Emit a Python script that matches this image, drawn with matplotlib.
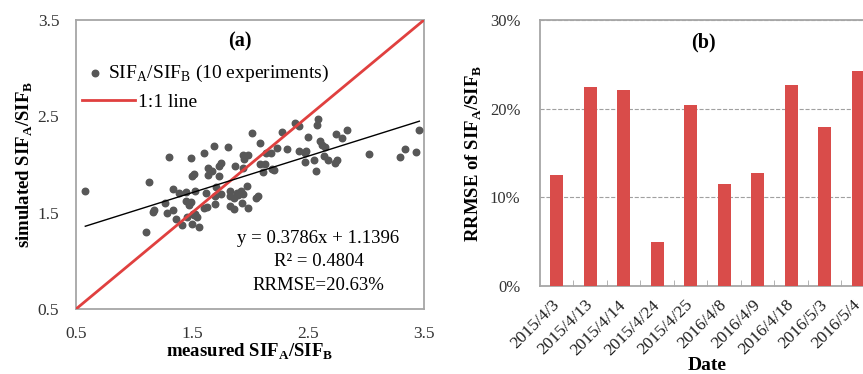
import matplotlib
matplotlib.use("Agg")
import matplotlib.pyplot as plt
import matplotlib.transforms as mtransforms
import numpy as np

plt.rcParams['font.family'] = ['Liberation Serif', 'DejaVu Serif']
plt.rcParams['mathtext.fontset'] = 'custom'
plt.rcParams['mathtext.rm'] = 'Liberation Serif'
plt.rcParams['mathtext.bf'] = 'Liberation Serif:bold'

# (a) measured vs simulated SIFA/SIFB
measured = [0.58, 1.13, 1.10, 1.30, 1.49, 1.60, 1.69, 1.81, 2.02, 2.09,
            2.28, 2.39, 2.42, 2.59, 2.58, 2.50, 2.74, 2.79, 2.84, 3.46,
            3.03, 3.29, 3.34, 3.43, 2.32, 2.42, 2.47, 2.48, 2.47, 2.55,
            2.57, 2.60, 2.62, 2.65, 2.64, 2.67, 2.73, 2.75, 2.23, 2.14,
            2.18, 2.09, 2.13, 2.11, 2.19, 2.21, 1.94, 1.98, 1.95, 1.94,
            1.87, 1.75, 1.73, 1.64, 1.67, 1.64, 1.52, 1.50, 1.73, 1.97,
            1.71, 1.34, 1.39, 1.45, 1.53, 1.62, 1.70, 1.75, 1.83, 1.89,
            1.92, 1.94, 1.83, 1.86, 1.90, 1.93, 1.98, 1.83, 1.86, 1.70,
            1.63, 1.60, 1.45, 1.49, 1.47, 1.27, 1.34, 1.28, 1.17, 1.16,
            1.36, 1.46, 1.52, 1.54, 1.53, 1.41, 1.50, 1.56, 2.05, 2.07,
            1.51]
simulated = [1.72, 1.82, 1.30, 2.08, 2.07, 2.12, 2.19, 2.18, 2.33, 2.22,
             2.34, 2.43, 2.40, 2.47, 2.41, 2.29, 2.32, 2.28, 2.36, 2.36,
             2.11, 2.08, 2.16, 2.13, 2.16, 2.14, 2.12, 2.14, 2.03, 2.05,
             1.93, 2.24, 2.20, 2.18, 2.09, 2.05, 2.02, 2.05, 2.17, 2.12,
             2.12, 2.01, 2.01, 1.92, 1.95, 1.94, 2.10, 2.10, 2.06, 1.96,
             1.98, 2.02, 1.98, 1.96, 1.93, 1.89, 1.90, 1.88, 1.88, 1.78,
             1.77, 1.75, 1.70, 1.71, 1.72, 1.70, 1.67, 1.69, 1.72, 1.70,
             1.72, 1.69, 1.67, 1.65, 1.68, 1.60, 1.55, 1.57, 1.54, 1.59,
             1.56, 1.55, 1.62, 1.61, 1.58, 1.60, 1.53, 1.50, 1.53, 1.51,
             1.43, 1.45, 1.48, 1.45, 1.49, 1.37, 1.38, 1.35, 1.65, 1.67,
             1.49]
slope, intercept = 0.3786, 1.1396
ticks_a = [0.5, 1.5, 2.5, 3.5]

# (b) RRMSE per experiment date
dates = ['2015/4/3', '2015/4/13', '2015/4/14', '2015/4/24', '2015/4/25',
         '2016/4/8', '2016/4/9', '2016/4/18', '2016/5/3', '2016/5/4']
rrmse = [12.5, 22.5, 22.1, 5.0, 20.4, 11.5, 12.7, 22.7, 17.9, 24.2]

grey = '#a6a6a6'
red = '#e0403f'
bar_red = '#d94c4a'
sub = r'SIF$_\mathrm{A}$/SIF$_\mathrm{B}$'
subb = r'SIF$_\mathbf{A}$/SIF$_\mathbf{B}$'

fig = plt.figure(figsize=(8.63, 3.74), dpi=100)

# ---- panel a
ax = fig.add_axes([0.0881, 0.1738, 0.4032, 0.7727])
pts = ax.scatter(measured, simulated, s=22, color='#575757', zorder=3)
one, = ax.plot([0.5, 3.5], [0.5, 3.5], color=red, lw=2.0, zorder=4)
xf = np.array([min(measured), max(measured)])
ax.plot(xf, slope * xf + intercept, color='black', lw=1.0, zorder=5)
ax.set_xlim(0.5, 3.5)
ax.set_ylim(0.5, 3.5)
ax.set_xticks(ticks_a)
ax.set_yticks(ticks_a)
ax.set_xticklabels([str(t) for t in ticks_a])
ax.set_yticklabels([str(t) for t in ticks_a])
ax.tick_params(labelsize=12.5, length=0, pad=12, colors='#333333')
for s in ax.spines.values():
    s.set_color(grey)
    s.set_linewidth(1.3)
ax.set_xlabel('measured ' + subb, fontsize=13.5, fontweight='bold', labelpad=0)
ax.set_ylabel('simulated ' + subb, fontsize=13.5, fontweight='bold', labelpad=2)
ax.text(0.47, 0.924, '(a)', transform=ax.transAxes, ha='center', va='center',
        fontsize=14.5, fontweight='bold')
# two separate legend rows, each with its own handle width
leg1 = ax.legend([pts], [sub + ' (10 experiments)'], loc='upper left',
                 bbox_to_anchor=(0.005, 0.892), frameon=False, fontsize=14,
                 handlelength=0.6, handletextpad=0.35, borderaxespad=0.2)
ax.add_artist(leg1)
ax.legend([one], ['1:1 line'], loc='upper left', bbox_to_anchor=(-0.015, 0.787),
          frameon=False, fontsize=14, handlelength=2.7, handletextpad=0.15,
          borderaxespad=0.2)
ax.text(2.59, 0.99, 'y = %.4fx + %.4f\nR² = 0.4804\nRRMSE=20.63%%' % (slope, intercept),
        ha='center', va='center', fontsize=13.5, linespacing=1.5)

# ---- panel b
bx = fig.add_axes([0.6257, 0.2353, 0.3882, 0.7112])
pos = np.arange(len(dates))
bx.bar(pos, rrmse, width=0.4, color=bar_red, zorder=3)
bx.set_xlim(-0.5, len(dates) - 0.5)
bx.set_ylim(0, 30)
bx.set_yticks([0, 10, 20, 30])
bx.set_yticklabels(['0%', '10%', '20%', '30%'])
bx.set_xticks(pos)
bx.set_xticklabels(dates, rotation=45, ha='right', va='center',
                   rotation_mode='anchor')
shift = mtransforms.ScaledTranslation(-3 / 100, 0, fig.dpi_scale_trans)
for lab in bx.get_xticklabels():
    lab.set_transform(lab.get_transform() + shift)
bx.set_xticks(pos[:-1] + 0.5, minor=True)
bx.tick_params(axis='x', which='major', length=0, pad=12, labelsize=12.5,
               colors='#202020')
bx.tick_params(axis='x', which='minor', length=4, direction='in', color=grey)
bx.tick_params(axis='y', length=0, pad=14, labelsize=12, colors='#333333')
bx.grid(axis='y', linestyle='--', color='#a0a0a0', lw=0.8, zorder=0)
for s in bx.spines.values():
    s.set_color(grey)
    s.set_linewidth(1.3)
bx.set_xlabel('Date', fontsize=14, fontweight='bold', labelpad=-1)
bx.set_ylabel('RRMSE of ' + subb, fontsize=13.5, fontweight='bold', labelpad=4)
bx.text(0.487, 0.917, '(b)', transform=bx.transAxes, ha='center', va='center',
        fontsize=14.5, fontweight='bold')

fig.savefig('out.png', dpi=100)
